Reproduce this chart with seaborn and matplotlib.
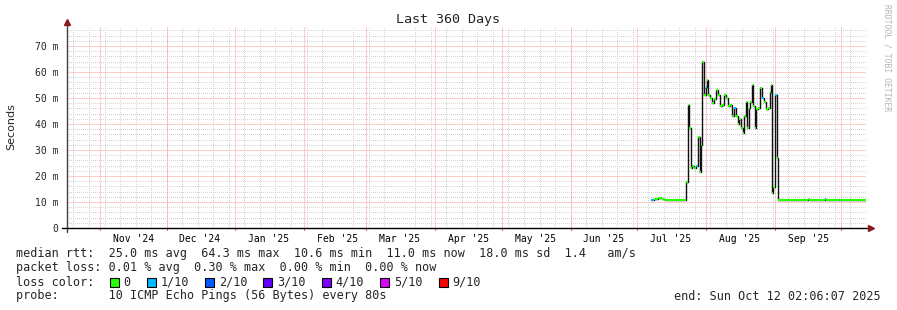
import matplotlib
matplotlib.use("Agg")
import matplotlib.pyplot as plt
import matplotlib.dates as mdates
from matplotlib.patches import Rectangle
import numpy as np
import pandas as pd
import seaborn as sns

# ---------------- data ----------------
range_start = "2024-10-17 02:06:07"
range_end = "2025-10-12 02:06:07"

times = [
    "2025-07-07 08:00", "2025-07-08 10:00", "2025-07-09 12:00", "2025-07-10 12:00",
    "2025-07-12 00:00", "2025-07-13 12:00",
    "2025-07-23 02:00", "2025-07-23 18:00", "2025-07-24 11:00", "2025-07-25 03:00",
    "2025-07-25 19:00", "2025-07-26 16:30", "2025-07-27 14:00", "2025-07-28 06:30",
    "2025-07-29 04:00", "2025-07-29 15:00", "2025-07-30 07:00", "2025-07-31 04:30",
    "2025-07-31 21:00", "2025-08-01 13:00", "2025-08-02 00:00", "2025-08-02 21:30",
    "2025-08-03 19:00", "2025-08-04 16:30", "2025-08-05 14:00", "2025-08-06 11:45",
    "2025-08-07 09:00", "2025-08-08 07:00", "2025-08-09 04:30", "2025-08-10 02:00",
    "2025-08-10 23:45", "2025-08-11 21:00", "2025-08-12 19:00", "2025-08-13 16:30",
    "2025-08-14 14:00", "2025-08-15 06:30", "2025-08-15 22:45", "2025-08-16 20:00",
    "2025-08-17 12:30", "2025-08-18 04:30", "2025-08-18 21:00", "2025-08-19 13:00",
    "2025-08-20 05:15", "2025-08-20 21:30", "2025-08-21 13:30", "2025-08-22 06:00",
    "2025-08-22 22:00", "2025-08-23 14:00", "2025-08-24 11:45", "2025-08-25 09:00",
    "2025-08-26 07:00", "2025-08-27 04:30", "2025-08-28 02:00", "2025-08-28 23:45",
    "2025-08-29 16:00", "2025-08-30 03:00", "2025-08-30 13:45", "2025-08-31 06:00",
    "2025-08-31 22:00", "2025-09-01 19:30", "2025-09-02 06:30",
    "2025-09-16 00:00", "2025-09-16 12:00", "2025-09-23 18:00", "2025-09-24 06:00",
    "2025-09-29 18:00", "2025-09-30 06:00", "2025-10-12 02:06",
]
median_rtt_ms = [
    10.9, 11.3, 11.1, 11.4, 11.0, 10.9,
    17.8, 47.3, 38.5, 23.0, 24.0, 23.0, 24.0, 35.0,
    21.5, 32.0, 64.0, 51.0, 54.4, 57.0, 51.0, 50.0,
    48.0, 49.5, 53.0, 51.0, 47.0, 47.5, 51.0, 50.0,
    47.0, 47.5, 43.0, 46.0, 43.0, 40.0, 42.0, 38.5,
    36.5, 43.0, 48.6, 38.5, 46.0, 48.6, 55.0, 47.0,
    38.5, 45.6, 46.0, 53.7, 50.0, 48.6, 45.6, 46.0,
    52.4, 55.0, 13.4, 15.9, 51.0, 27.0, 10.9,
    11.3, 10.9, 11.0, 10.9, 10.9, 10.9, 10.9,
]
loss_pings = [
    1, 0, 0, 0, 0, 0,
    0, 0, 0, 0, 0, 0, 1, 0,
    0, 0, 0, 0, 1, 0, 0, 0,
    0, 0, 0, 0, 0, 0, 0, 0,
    0, 0, 0, 1, 0, 0, 0, 0,
    0, 0, 0, 0, 0, 0, 0, 0,
    0, 0, 0, 0, 1, 0, 0, 0,
    0, 0, 0, 0, 1, 0, 0,
    0, 0, 1, 0, 1, 0, 0,
]

loss_labels = ["0", "1/10", "2/10", "3/10", "4/10", "5/10", "9/10"]
loss_levels = [0, 1, 2, 3, 4, 5, 9]
loss_colors = ["#26ff00", "#00b8ff", "#0059ff", "#5e00ff", "#7e00ff", "#dd00ff", "#ff0000"]

y_ticks = [0, 10, 20, 30, 40, 50, 60, 70]

legend_rows = [
    "median rtt:  25.0 ms avg  64.3 ms max  10.6 ms min  11.0 ms now  18.0 ms sd  1.4   am/s",
    "packet loss: 0.01 % avg  0.30 % max  0.00 % min  0.00 % now",
]
probe_text = "probe:       10 ICMP Echo Pings (56 Bytes) every 80s"
end_text = "end: Sun Oct 12 02:06:07 2025"
title_text = "Last 360 Days"

# ---------------- figure ----------------
sns.set_theme(style="white")
plt.rcParams["font.family"] = ["DejaVu Sans Mono", "DejaVu Sans"]

W, H = 897, 310
fig = plt.figure(figsize=(W / 100, H / 100), dpi=100)
fig.patch.set_facecolor("white")

x0, x1, ytop, ybot = 67, 866, 27, 228
ax = fig.add_axes([x0 / W, 1 - ybot / H, (x1 - x0) / W, (ybot - ytop) / H])
ax.set_facecolor("white")

df = pd.DataFrame({"time": pd.to_datetime(times), "rtt": median_rtt_ms, "loss": loss_pings})
t0 = pd.Timestamp(range_start)
t1 = pd.Timestamp(range_end)

ylim_top = (ybot - ytop) / 26 * 10
ax.set_xlim(t0, t1)
ax.set_ylim(0, ylim_top)

# grid: minor gray (pixel dotted), major red dotted
minor_c = "#d4d4d4"
major_c = "#ff9a9a"
gkw = dict(lw=0.72, ls=(0, (1, 2)), antialiased=False)
mkw = dict(lw=0.72, ls=(0, (1, 1)), antialiased=True)
ax.xaxis.set_minor_locator(mdates.WeekdayLocator(byweekday=mdates.SU))
minor_y = [v for v in np.arange(2, ylim_top, 2) if int(round(v)) % 10 != 0]
ax.yaxis.set_minor_locator(matplotlib.ticker.FixedLocator(minor_y))
ax.grid(which="minor", axis="both", color=minor_c, **gkw)
ax.set_yticks(y_ticks)
ax.grid(which="major", axis="both", visible=False)
for v in y_ticks[1:]:
    ax.axhline(v, color=major_c, zorder=0.7, **mkw)
month_starts = pd.date_range(t0.normalize(), t1, freq="MS")
for m in month_starts:
    ax.axvline(m, color=major_c, zorder=0.7, **mkw)
    ax.plot([m, m], [-0.8, 0], color="#e06060", lw=0.8, clip_on=False, zorder=0.6)

# labels at mid-month
ax.xaxis.set_major_locator(mdates.MonthLocator(bymonthday=16))
ax.xaxis.set_major_formatter(mdates.DateFormatter("%b '%y"))
ax.tick_params(axis="x", which="major", length=0, pad=4, labelsize=7, colors="black")
ax.tick_params(axis="x", which="minor", length=2, color="#b0b0b0", direction="out")
ax.tick_params(axis="y", which="major", length=3, color="#606060", pad=3, labelsize=7)
ax.tick_params(axis="y", which="minor", length=0)
ax.set_yticklabels(["0" if v == 0 else f"{v} m" for v in y_ticks])

# data: black step line + loss-coloured levels
sns.lineplot(data=df, x="time", y="rtt", ax=ax, color="#111111", lw=1.0,
             drawstyle="steps-post", estimator=None, zorder=3)
cmap = dict(zip(loss_levels, loss_colors))
ax.hlines(df["rtt"].iloc[:-1], df["time"].iloc[:-1], df["time"].iloc[1:],
          colors=[cmap[l] for l in df["loss"].iloc[:-1]], lw=1.5, zorder=4)
ax.set_xlabel("")
ax.set_ylabel("")

# axes lines with arrows
for s in ax.spines.values():
    s.set_visible(False)
ax.plot([0, 0], [-4 / 201, 1 + 5 / 201], transform=ax.transAxes, color="#404040",
        lw=1, clip_on=False, zorder=5)
ax.plot([-5 / 799, 1 + 5 / 799], [0, 0], transform=ax.transAxes, color="black",
        lw=1, clip_on=False, zorder=5)
ax.plot([0], [1 + 5 / 201], marker="^", ms=4, color="#8b1a1a", transform=ax.transAxes,
        clip_on=False, zorder=6)
ax.plot([1 + 5 / 799], [0], marker=">", ms=4, color="#8b1a1a", transform=ax.transAxes,
        clip_on=False, zorder=6)

# texts
fig.text(448 / W, 1 - 19 / H, title_text, ha="center", va="center", fontsize=9.6)
fig.text(11 / W, 1 - 127 / H, "Seconds", rotation=90, ha="center", va="center",
         fontsize=8, family="DejaVu Sans")
fig.text(887 / W, 1 - 58 / H, "RRDTOOL / TOBI OETIKER", rotation=270, ha="center",
         va="center", fontsize=5.8, color="#b4b4b4")

cw = 7.12
lx = 16
fs = 8.5
row_y = [254, 268, 282, 296]
for txt, yy in zip(legend_rows, row_y[:2]):
    fig.text(lx / W, 1 - yy / H, txt, ha="left", va="center", fontsize=fs)
fig.text(lx / W, 1 - row_y[2] / H, "loss color:", ha="left", va="center", fontsize=fs)
col = 13.0
for lab, c in zip(loss_labels, loss_colors):
    bx = lx + col * cw
    fig.patches.append(Rectangle(((bx + 1) / W, 1 - (row_y[2] + 4.5) / H), 9 / W, 9 / H,
                                 transform=fig.transFigure, facecolor=c,
                                 edgecolor="black", lw=0.8))
    fig.text((lx + (col + 2.1) * cw) / W, 1 - row_y[2] / H, lab, ha="left", va="center",
             fontsize=fs)
    col += 2.1 + len(lab) + 2.1
fig.text(lx / W, 1 - row_y[3] / H, probe_text, ha="left", va="center", fontsize=fs)
fig.text(881 / W, 1 - row_y[3] / H, end_text, ha="right", va="center", fontsize=fs)

fig.savefig("out.png", dpi=100, facecolor="white")
